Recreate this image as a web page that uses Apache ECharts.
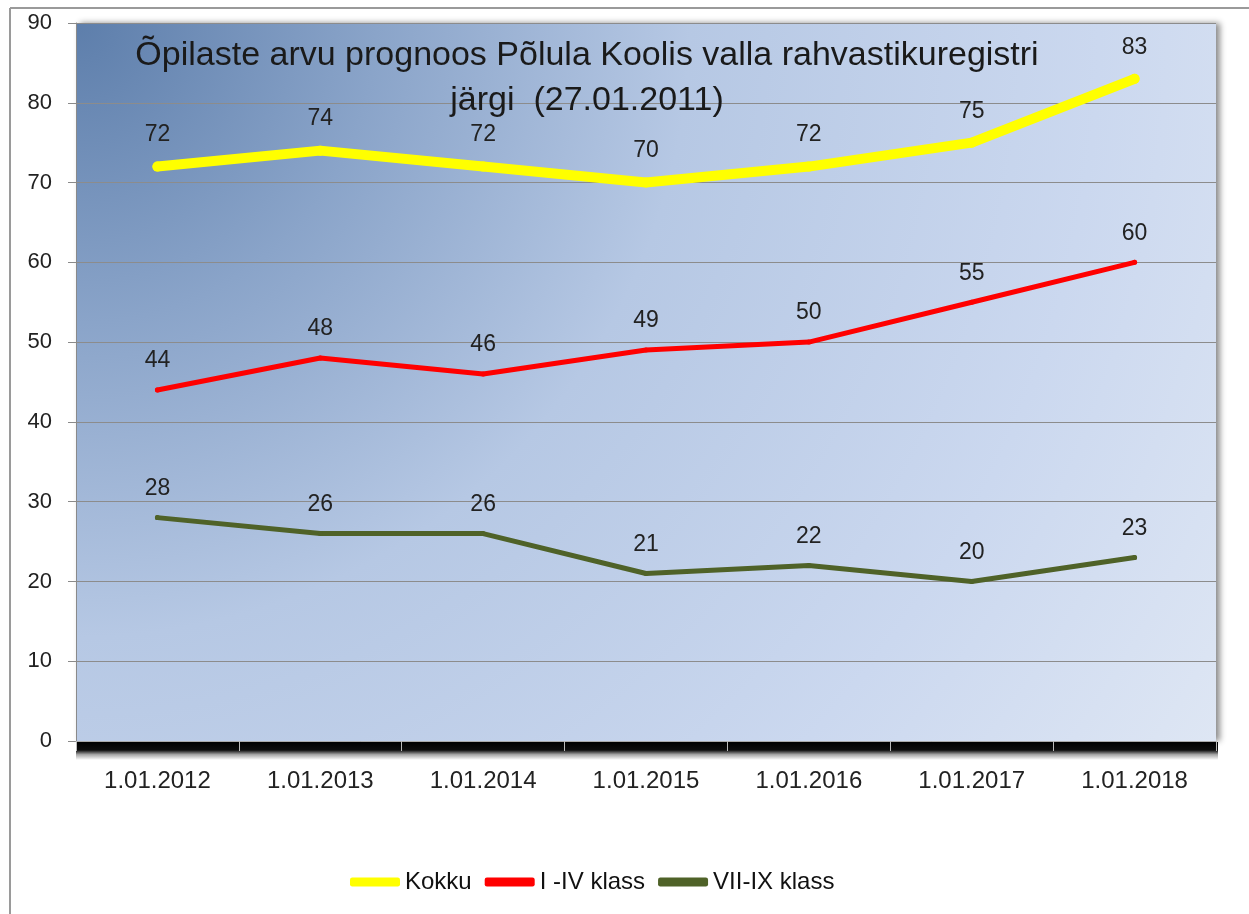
<!DOCTYPE html>
<html>
<head>
<meta charset="utf-8">
<script src="https://cdn.jsdelivr.net/npm/echarts@6/dist/echarts.min.js"></script>
<style>
  html, body { margin: 0; padding: 0; background: #fff; }
  #chart { width: 1249px; height: 914px; }
</style>
</head>
<body>
<div id="chart"></div>
<script>
// =====================
// Data
// =====================
const DATES = ["1.01.2012","1.01.2013","1.01.2014","1.01.2015","1.01.2016","1.01.2017","1.01.2018"]
const KOKKU = [72, 74, 72, 70, 72, 75, 83]
const KLASS_1_4 = [44, 48, 46, 49, 50, 55, 60]
const KLASS_7_9 = [28, 26, 26, 21, 22, 20, 23]
const SERIES_NAMES = ["Kokku", "I -IV klass", "VII-IX klass"]
const Y_MAX = 90
const Y_STEP = 10

const FONT = "Liberation Sans, Arial, sans-serif"

const chart = echarts.init(document.getElementById("chart"))

function lineSeries(name, data, color, width) {
  return {
    name: name,
    type: "line",
    data: data,
    symbol: "circle",
    symbolSize: width,
    itemStyle: { color: color },
    lineStyle: { color: color, width: width, cap: "round", join: "round" },
    label: {
      show: true,
      position: "top",
      distance: 15,
      color: "#222",
      fontSize: 23,
      fontFamily: FONT
    },
    z: 10
  }
}

const option = {
  animation: false,
  backgroundColor: "#fff",

  title: {
    text: "Õpilaste arvu prognoos Põlula Koolis valla rahvastikuregistri\njärgi  (27.01.2011)",
    left: 582,
    top: 28,
    textAlign: "center",
    textStyle: {
      color: "#1a1a1a",
      fontWeight: "normal",
      fontSize: 34,
      lineHeight: 45,
      fontFamily: FONT
    }
  },

  grid: {
    left: 76,
    right: 33,
    top: 23,
    bottom: 173,
    show: true,
    borderWidth: 0,
    backgroundColor: new echarts.graphic.RadialGradient(0, 0, 1.9, [
      { offset: 0, color: "#5d7eab" },
      { offset: 0.22, color: "#8aa4c9" },
      { offset: 0.45, color: "#b6c8e4" },
      { offset: 0.75, color: "#cbd8ef" },
      { offset: 1, color: "#dfe7f4" }
    ]),
    shadowColor: "rgba(0,0,0,0.45)",
    shadowBlur: 6,
    shadowOffsetX: 4,
    shadowOffsetY: 0
  },

  legend: {
    data: SERIES_NAMES,
    left: 345,
    top: 865,
    icon: "roundRect",
    itemWidth: 50,
    itemHeight: 9,
    itemGap: 13,
    textStyle: { color: "#111", fontSize: 24, fontFamily: FONT }
  },

  xAxis: {
    type: "category",
    data: DATES,
    boundaryGap: true,
    z: 5,
    axisLine: { show: true, lineStyle: { color: "#aaa", width: 1 } },
    axisTick: { show: true, length: 10, lineStyle: { color: "#bbb" } },
    axisLabel: { color: "#222", fontSize: 24, fontFamily: FONT, margin: 28 }
  },

  yAxis: {
    type: "value",
    min: 0,
    max: Y_MAX,
    interval: Y_STEP,
    axisLine: { show: true, lineStyle: { color: "#8a8a8a", width: 1 } },
    axisTick: { show: true, length: 8, lineStyle: { color: "#8a8a8a" } },
    axisLabel: { color: "#222", fontSize: 22, fontFamily: FONT, margin: 24 },
    splitLine: { show: true, lineStyle: { color: "#8c8c8c", width: 1 } }
  },

  graphic: [
    // page frame
    { type: "line", z: 1, shape: { x1: 10, y1: 8, x2: 10, y2: 914 }, style: { stroke: "#9a9a9a", lineWidth: 2 } },
    { type: "line", z: 1, shape: { x1: 10, y1: 8, x2: 1249, y2: 8 }, style: { stroke: "#9a9a9a", lineWidth: 2 } },
    // dark floor under the plot
    {
      type: "rect", z: 1,
      shape: { x: 76, y: 742, width: 1142, height: 18 },
      style: {
        fill: new echarts.graphic.LinearGradient(0, 0, 0, 1, [
          { offset: 0, color: "rgba(0,0,0,1)" },
          { offset: 0.45, color: "rgba(0,0,0,0.95)" },
          { offset: 0.7, color: "rgba(0,0,0,0.35)" },
          { offset: 1, color: "rgba(0,0,0,0)" }
        ])
      }
    }
  ],

  series: [
    lineSeries(SERIES_NAMES[0], KOKKU, "#ffff00", 10),
    lineSeries(SERIES_NAMES[1], KLASS_1_4, "#ff0000", 5),
    lineSeries(SERIES_NAMES[2], KLASS_7_9, "#4f6228", 5)
  ]
}

chart.setOption(option)
</script>
</body>
</html>
